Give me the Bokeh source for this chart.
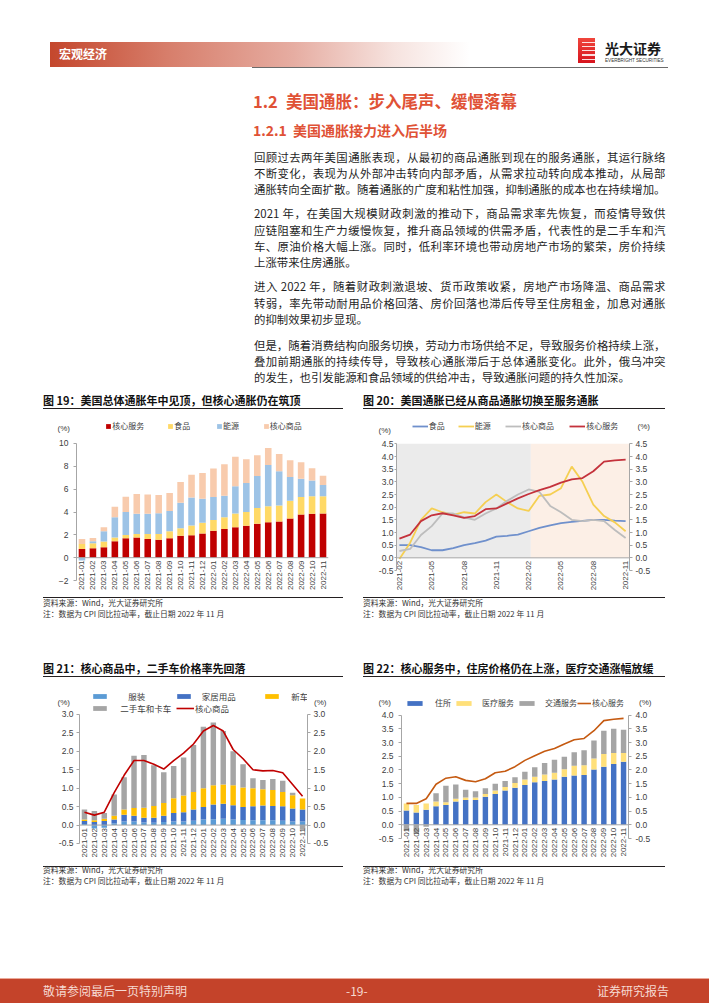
import math
import numpy as np
from bokeh.plotting import figure
from bokeh.models import (Range1d, FactorRange, LinearAxis, Legend, LegendItem, Label,
                          FixedTicker, BoxAnnotation, Div, Spacer, NumeralTickFormatter, Span)
from bokeh.layouts import column, row
from bokeh.embed import file_html
from bokeh.resources import INLINE
from bokeh.core.properties import value

# ---------------- data ----------------
months = ["2021-01", "2021-02", "2021-03", "2021-04", "2021-05", "2021-06", "2021-07",
          "2021-08", "2021-09", "2021-10", "2021-11", "2021-12", "2022-01", "2022-02",
          "2022-03", "2022-04", "2022-05", "2022-06", "2022-07", "2022-08", "2022-09",
          "2022-10", "2022-11"]

# Fig 19 (contribution to CPI yoy, %)
c19_services = [0.76, 0.82, 0.91, 1.44, 1.70, 1.76, 1.64, 1.58, 1.70, 1.91, 1.96, 2.11,
                2.35, 2.52, 2.67, 2.79, 2.96, 3.11, 3.17, 3.43, 3.78, 3.84, 3.87]
c19_food = [0.44, 0.44, 0.50, 0.32, 0.29, 0.32, 0.44, 0.50, 0.62, 0.67, 0.86, 0.94,
            0.96, 1.03, 1.20, 1.20, 1.38, 1.40, 1.40, 1.55, 1.53, 1.53, 1.50]
c19_energy = [-0.25, 0.18, 0.91, 1.79, 2.00, 1.76, 1.76, 1.82, 1.76, 2.23, 2.46, 2.11,
              2.00, 1.88, 2.38, 2.55, 2.82, 3.60, 3.00, 2.08, 1.60, 1.38, 1.00]
c19_coregoods = [0.44, 0.29, 0.35, 0.91, 1.35, 1.73, 1.70, 1.58, 1.58, 1.82, 1.99, 2.26,
                 2.49, 2.75, 2.58, 2.08, 1.81, 1.50, 1.50, 1.47, 1.44, 1.09, 0.80]
c19_names = ["核心服务", "食品", "能源", "核心商品"]

# Fig 20 (2021-02 .. 2022-11)
c20_months = months[1:]
c20_food = [0.50, 0.50, 0.42, 0.30, 0.30, 0.38, 0.50, 0.58, 0.68, 0.84, 0.87, 0.92,
            1.05, 1.18, 1.28, 1.37, 1.42, 1.46, 1.50, 1.50, 1.47, 1.45]
c20_energy = [-0.05, 0.60, 1.50, 1.95, 1.80, 1.70, 1.80, 1.75, 2.20, 2.50, 2.20, 1.95,
              1.85, 2.45, 2.50, 2.75, 3.60, 3.00, 2.10, 1.65, 1.40, 1.05]
c20_coregoods = [0.27, 0.35, 0.90, 1.25, 1.75, 1.75, 1.60, 1.50, 1.75, 1.95, 2.25, 2.50,
                 2.70, 2.60, 2.05, 1.80, 1.50, 1.45, 1.50, 1.45, 1.10, 0.78]
c20_services = [0.76, 0.92, 1.45, 1.68, 1.76, 1.68, 1.58, 1.65, 1.92, 1.95, 2.15, 2.35,
                2.52, 2.67, 2.80, 2.97, 3.10, 3.15, 3.42, 3.80, 3.85, 3.88]
c20_names = ["食品", "能源", "核心商品", "核心服务"]
c20_tick_step = 3

# Fig 21
c21_apparel = [0.03, -0.09, -0.07, 0.05, 0.10, 0.10, 0.07, 0.06, 0.08, 0.10, 0.10, 0.12,
               0.15, 0.16, 0.17, 0.15, 0.14, 0.13, 0.13, 0.13, 0.12, 0.10, 0.10]
c21_furnish = [0.08, 0.08, 0.11, 0.10, 0.18, 0.15, 0.13, 0.14, 0.17, 0.23, 0.25, 0.30,
               0.34, 0.40, 0.41, 0.39, 0.35, 0.38, 0.40, 0.39, 0.39, 0.35, 0.32]
c21_newcar = [0.04, 0.05, 0.06, 0.10, 0.14, 0.21, 0.27, 0.32, 0.35, 0.40, 0.45, 0.48,
              0.51, 0.52, 0.52, 0.54, 0.53, 0.49, 0.44, 0.43, 0.39, 0.36, 0.30]
c21_used = [0.27, 0.25, 0.16, 0.58, 0.88, 1.42, 1.43, 1.10, 0.83, 0.87, 1.03, 1.27,
            1.67, 1.70, 1.45, 0.92, 0.63, 0.27, 0.25, 0.30, 0.30, 0.07, -0.12]
c21_core = [0.35, 0.27, 0.35, 0.88, 1.35, 1.75, 1.75, 1.65, 1.52, 1.75, 1.95, 2.20,
            2.55, 2.70, 2.55, 2.05, 1.80, 1.50, 1.47, 1.48, 1.42, 1.10, 0.78]
c21_names = ["服装", "家居用品", "新车", "二手车和卡车", "核心商品"]

# Fig 22
c22_housing = [0.52, 0.45, 0.55, 0.68, 0.72, 0.85, 0.90, 0.90, 1.02, 1.12, 1.25, 1.35,
               1.45, 1.55, 1.60, 1.65, 1.75, 1.80, 1.82, 2.02, 2.12, 2.22, 2.30]
c22_medical = [0.26, 0.27, 0.23, 0.17, 0.10, 0.10, 0.10, 0.10, 0.10, 0.13, 0.13, 0.17,
               0.20, 0.20, 0.23, 0.25, 0.28, 0.35, 0.35, 0.40, 0.46, 0.40, 0.32]
c22_transport = [-0.22, -0.34, -0.07, 0.30, 0.60, 0.52, 0.28, 0.22, 0.21, 0.25, 0.22, 0.21,
                 0.28, 0.35, 0.42, 0.47, 0.45, 0.50, 0.55, 0.65, 0.85, 0.88, 0.85]
c22_core = [0.78, 0.78, 0.95, 1.48, 1.70, 1.75, 1.62, 1.57, 1.68, 1.90, 1.95, 2.12,
            2.35, 2.52, 2.68, 2.78, 2.95, 3.10, 3.15, 3.43, 3.80, 3.85, 3.88]
c22_names = ["住所", "医疗服务", "交通服务", "核心服务"]

# ---------------- styling helpers ----------------
CJK = "Noto Sans CJK SC"
NUM = "Liberation Sans"
AX = "#A6A6A6"
TXT = "#404040"


def base_fig(w, h, xr, yr, ml, mr, mt, mb):
    p = figure(width=w, height=h, x_range=xr, y_range=yr, output_backend="svg",
               toolbar_location=None, title=None, x_axis_location=None,
               min_border_left=ml, min_border_right=mr, min_border_top=mt, min_border_bottom=mb)
    p.outline_line_color = None
    p.xgrid.visible = False
    p.ygrid.visible = False
    return p


def style_y(ax, bounds, ticks, fmt=None, tick_out=3, standoff=5):
    ax.bounds = bounds
    ax.ticker = FixedTicker(ticks=ticks)
    if fmt:
        ax.formatter = NumeralTickFormatter(format=fmt)
    ax.axis_line_color = AX
    ax.major_tick_line_color = AX
    ax.major_tick_out = tick_out
    ax.major_tick_in = 0
    ax.minor_tick_line_color = None
    ax.major_label_text_font = NUM
    ax.major_label_text_font_size = "8.5px"
    ax.major_label_text_color = TXT
    ax.major_label_standoff = standoff


def x_labels(p, xs, labels, offset=3):
    """Category/date labels hanging below the zero line, reading bottom-to-top."""
    p.add_layout(Span(location=0, dimension="width", line_color=AX, line_width=1))
    p.text(x=xs, y=[0] * len(xs), text=labels, angle=math.pi / 2, y_offset=offset,
           text_align="right", text_baseline="middle", text_font=value(NUM),
           text_font_size="8px", text_color=TXT)


def leg(p, label, r, x, yc, gw, gh, standoff, fs="8px"):
    lg = Legend(items=[LegendItem(label=label, renderers=[r])], location=(x, yc - gh / 2),
                orientation="horizontal", glyph_width=int(gw), glyph_height=int(gh),
                label_height=int(gh), label_width=1, label_standoff=int(standoff),
                padding=0, margin=0, spacing=0,
                border_line_color=None, background_fill_alpha=0,
                label_text_font=CJK, label_text_font_size=fs, label_text_color=TXT)
    p.add_layout(lg)


def pct_side(p, x, y, side):
    """'(%)' unit label placed in the side panel beyond the y axis."""
    p.add_layout(Label(x=x, y=y, x_units="screen", y_units="screen", text="(%)",
                       text_font=NUM, text_font_size="8px", text_color=TXT,
                       text_baseline="middle", text_align="left"), side)


def stacked(p, xs, series, width):
    n = len(xs)
    pos = np.zeros(n)
    neg = np.zeros(n)
    rends = []
    for vals, color in series:
        v = np.asarray(vals, float)
        bottom = np.where(v >= 0, pos, neg)
        top = bottom + v
        pos = np.where(v >= 0, top, pos)
        neg = np.where(v < 0, top, neg)
        rends.append(p.vbar(x=xs, top=top, bottom=bottom, width=width,
                            fill_color=color, line_color=None))
    return rends


# ---------------- Fig 19 ----------------
p19 = base_fig(300, 178, FactorRange(*months), Range1d(-3.226, 12.102), 28, 15, 1, 2)
r19 = stacked(p19, months, [(c19_services, "#C00000"), (c19_food, "#FFD966"),
                            (c19_energy, "#9DC3E6"), (c19_coregoods, "#F8CBAD")], 0.6)
style_y(p19.yaxis[0], (-2, 10), [-2, 0, 2, 4, 6, 8, 10])
x_labels(p19, months, months)
for (name, r, x) in zip(c19_names, r19, [29.2, 91.3, 140.0, 186.7]):
    leg(p19, name, r, x, 166, 6, 6, 1)
pct_side(p19, 14, 166, "left")

# ---------------- Fig 20 ----------------
idx20 = list(range(len(c20_months)))
p20 = base_fig(302, 178, Range1d(-0.27, len(c20_months) - 1 + 0.36), Range1d(-1.447, 5.461),
               32, 33, 1, 2)
shade_split = 12.2
p20.add_layout(BoxAnnotation(right=shade_split, bottom=0, top=4.5, fill_color="#EBEBEB",
                             fill_alpha=1, line_color=None, level="underlay"))
p20.add_layout(BoxAnnotation(left=shade_split, bottom=0, top=4.5, fill_color="#FCEFE6",
                             fill_alpha=1, line_color=None, level="underlay"))
r20 = []
for vals, color in [(c20_food, "#6F90CC"), (c20_energy, "#F5CF52"),
                    (c20_coregoods, "#BDBDBD"), (c20_services, "#C4323C")]:
    r20.append(p20.line(idx20, vals, line_color=color, line_width=1.8))
ticks20 = [-0.5, 0, 0.5, 1, 1.5, 2, 2.5, 3, 3.5, 4, 4.5]
style_y(p20.yaxis[0], (-0.5, 4.5), ticks20, "0.0", tick_out=2, standoff=1)
ry20 = LinearAxis()
p20.add_layout(ry20, "right")
style_y(ry20, (-0.5, 4.5), ticks20, "0.0", tick_out=3, standoff=3)
x_labels(p20, idx20[::c20_tick_step], c20_months[::c20_tick_step])
for (name, r, x) in zip(c20_names, r20, [15.7, 61.7, 109.0, 173.3]):
    leg(p20, name, r, x, 166, 16, 6, 1)
pct_side(p20, 15, 164, "left")
pct_side(p20, -16, 168, "right")

# ---------------- Fig 21 ----------------
p21 = base_fig(300, 178, FactorRange(*months), Range1d(-1.0155, 3.732), 28, 29, 1, 2)
r21 = stacked(p21, months, [(c21_apparel, "#5B9BD5"), (c21_furnish, "#4472C4"),
                            (c21_newcar, "#FFC000"), (c21_used, "#A5A5A5")], 0.55)
l21 = p21.line(months, c21_core, line_color="#C00000", line_width=1.6)
ticks21 = [-0.5, 0, 0.5, 1, 1.5, 2, 2.5, 3]
style_y(p21.yaxis[0], (-0.5, 3.0), ticks21, "0.0", tick_out=3, standoff=3)
ry21 = LinearAxis()
p21.add_layout(ry21, "right")
style_y(ry21, (-0.5, 3.0), ticks21, "0.0", tick_out=3, standoff=3)
x_labels(p21, months, months)
leg(p21, c21_names[0], r21[0], 12.3, 163, 17, 6, 20, "8.5px")
leg(p21, c21_names[1], r21[1], 95.7, 163, 17, 6, 10, "8.5px")
leg(p21, c21_names[2], r21[2], 184.3, 163, 17, 6, 11, "8.5px")
leg(p21, c21_names[3], r21[3], 12.3, 151, 17, 6, 12, "8.5px")
leg(p21, c21_names[4], l21, 97.0, 151, 18, 6, 1, "8.5px")
pct_side(p21, 14, 160, "left")
pct_side(p21, -17.5, 160, "right")

# ---------------- Fig 22 ----------------
p22 = base_fig(302, 178, FactorRange(*months), Range1d(-1.375, 5.007), 32, 32, 1, 2)
r22 = stacked(p22, months, [(c22_housing, "#4472C4"), (c22_medical, "#FFE07A"),
                            (c22_transport, "#A5A5A5")], 0.55)
l22 = p22.line(months, c22_core, line_color="#C55A11", line_width=1.6)
ticks22 = [-0.5, 0, 0.5, 1, 1.5, 2, 2.5, 3, 3.5, 4]
style_y(p22.yaxis[0], (-0.5, 4.0), ticks22, "0.0", tick_out=3, standoff=5)
ry22 = LinearAxis()
p22.add_layout(ry22, "right")
style_y(ry22, (-0.5, 4.0), ticks22, "0.0", tick_out=3, standoff=4)
x_labels(p22, months, months)
leg(p22, c22_names[0], r22[0], 4.0, 157, 19, 6, 11, "8px")
leg(p22, c22_names[1], r22[1], 53.0, 157, 19, 6, 9, "8px")
leg(p22, c22_names[2], r22[2], 116.0, 157, 19, 6, 9, "8px")
leg(p22, c22_names[3], l22, 176.0, 157, 14, 6, 1, "8px")
pct_side(p22, 15, 160, "left")
pct_side(p22, -14.5, 160, "right")

# ---------------- page text (HTML) ----------------
FONTCSS = "'Noto Sans CJK SC','Noto Sans',sans-serif"
RED = "#E05236"
INK = "#1F1F1F"


def T(x, y, s, size, ox, oy, color=INK, weight="normal", width=None, justify=False,
      lhf=1.3, font=FONTCSS, extra=""):
    lh = round(size * lhf, 2)
    st = (f"position:absolute;left:{x - ox}px;top:{y - oy - lh / 2:.2f}px;height:{lh}px;"
          f"line-height:{lh}px;font-size:{size}px;color:{color};font-weight:{weight};"
          f"font-family:{font};")
    if width:
        st += f"width:{width}px;"
    if justify:
        st += "text-align:justify;text-align-last:justify;overflow:visible;"
    else:
        st += "white-space:nowrap;"
    return f'<div style="{st}{extra}">{s}</div>'


def R(x, y, w, h, bg, ox, oy, extra=""):
    return (f'<div style="position:absolute;left:{x - ox}px;top:{y - oy}px;width:{w}px;'
            f'height:{h}px;background:{bg};{extra}"></div>')


def wrap(inner, w, h):
    return f'<div style="position:relative;width:{w}px;height:{h}px;overflow:visible;">{inner}</div>'


paragraphs = [
    ["回顾过去两年美国通胀表现，从最初的商品通胀到现在的服务通胀，其运行脉络",
     "不断变化，表现为从外部冲击转向内部矛盾，从需求拉动转向成本推动，从局部",
     "通胀转向全面扩散。随着通胀的广度和粘性加强，抑制通胀的成本也在持续增加。"],
    ["2021 年，在美国大规模财政刺激的推动下，商品需求率先恢复，而疫情导致供",
     "应链阻塞和生产力缓慢恢复，推升商品领域的供需矛盾，代表性的是二手车和汽",
     "车、原油价格大幅上涨。同时，低利率环境也带动房地产市场的繁荣，房价持续",
     "上涨带来住房通胀。"],
    ["进入 2022 年，随着财政刺激退坡、货币政策收紧，房地产市场降温、商品需求",
     "转弱，率先带动耐用品价格回落、房价回落也滞后传导至住房租金，加息对通胀",
     "的抑制效果初步显现。"],
    ["但是，随着消费结构向服务切换，劳动力市场供给不足，导致服务价格持续上涨，",
     "叠加前期通胀的持续传导，导致核心通胀滞后于总体通胀变化。此外，俄乌冲突",
     "的发生，也引发能源和食品领域的供给冲击，导致通胀问题的持久性加深。"],
]
para_y = [[157, 173, 189], [213.3, 230, 246, 262.7], [286.7, 303.3, 319.3], [345, 361, 377]]

W = 710
ox, oy = 0, 0
a = []
a.append(R(50, 42, 420, 24.5, "linear-gradient(to right,#C4472D 0%,#D77E6B 28%,#E6ADA2 58%,#F6E3DF 82%,#FFFFFF 100%)", ox, oy))
a.append(T(59, 53.5, "宏观经济", 12, ox, oy, color="#FFFFFF", weight="bold"))
a.append(R(252, 66.5, 416, 1.6, "#6B6B6B", ox, oy))
# logo
a.append(R(578, 38, 17, 25, "linear-gradient(to bottom,#F0463C,#D7141E)", ox, oy))
for k in range(5):
    a.append(R(582, 41.5 + k * 4.3, 13, 1.3, "#FFFFFF", ox, oy, "opacity:0.85;"))
a.append(T(605, 47.5, "光大证券", 14, ox, oy, color="#1A1A1A", weight="bold", lhf=1.0))
a.append(T(605, 61, "EVERBRIGHT SECURITIES", 4.6, ox, oy, color="#333333", lhf=1.0,
           font="'Liberation Sans',sans-serif"))
# headings
a.append(T(253, 102, "1.2", 16.5, ox, oy, color=RED, weight="bold"))
a.append(T(286, 102, "美国通胀：步入尾声、缓慢落幕", 16.5, ox, oy, color=RED, weight="bold"))
a.append(T(253, 130, "1.2.1", 14, ox, oy, color=RED, weight="bold"))
a.append(T(293, 130, "美国通胀接力进入后半场", 14, ox, oy, color=RED, weight="bold"))
for lines, ys in zip(paragraphs, para_y):
    for i, (ln, yy) in enumerate(zip(lines, ys)):
        last = (i == len(lines) - 1) and len(ln) < 34
        if last:
            a.append(T(254, yy, ln, 11.4, ox, oy, color=INK))
        else:
            a.append(T(254, yy, ln, 11.4, ox, oy, color=INK, width=411.5, justify=True))
# chart titles row 1
a.append(T(43, 400, "图 19：美国总体通胀年中见顶，但核心通胀仍在筑顶", 11, ox, oy, color="#111111", weight="bold"))
a.append(T(363, 400, "图 20：美国通胀已经从商品通胀切换至服务通胀", 11, ox, oy, color="#111111", weight="bold"))
a.append(R(43, 407.5, 300, 1.3, "#231F20", ox, oy))
a.append(R(363, 407.5, 302, 1.3, "#231F20", ox, oy))
divA = Div(text=wrap("".join(a), W, 418), width=W, height=418, margin=0)

SRC1 = "资料来源：Wind，光大证券研究所"
SRC2 = "注：数据为 CPI 同比拉动率，截止日期 2022 年 11 月"

ox, oy = 0, 596
b = []
for x0, w in [(43, 300), (363, 302)]:
    b.append(R(x0, 597, w, 1, "#231F20", ox, oy))
    b.append(T(x0, 603.3, SRC1, 7.8, ox, oy, color="#333333"))
    b.append(T(x0, 614.5, SRC2, 7.8, ox, oy, color="#333333"))
    b.append(R(x0, 675.5, w, 1.3, "#231F20", ox, oy))
b.append(T(43, 668, "图 21：核心商品中，二手车价格率先回落", 11, ox, oy, color="#111111", weight="bold"))
b.append(T(363, 668, "图 22：核心服务中，住房价格仍在上涨，医疗交通涨幅放缓", 11, ox, oy, color="#111111", weight="bold"))
divB = Div(text=wrap("".join(b), W, 90), width=W, height=90, margin=0)

ox, oy = 0, 864
c = []
for x0, w in [(43, 300), (363, 302)]:
    c.append(R(x0, 865.5, w, 1, "#231F20", ox, oy))
    c.append(T(x0, 870.3, SRC1, 7.8, ox, oy, color="#333333"))
    c.append(T(x0, 881.3, SRC2, 7.8, ox, oy, color="#333333"))
c.append(R(0, 977.5, 709, 1, "#EBA999", ox, oy))
c.append(R(0, 978.5, 709, 24.5, "#C4432A", ox, oy))
c.append(T(43, 991, "敬请参阅最后一页特别声明", 12, ox, oy, color="#F6DAD2"))
c.append(T(346, 991, "-19-", 12, ox, oy, color="#F6DAD2"))
c.append(T(597, 991, "证券研究报告", 12, ox, oy, color="#F6DAD2"))
divC = Div(text=wrap("".join(c), W, 139), width=W, height=139, margin=0)

row1 = row(Spacer(width=43, height=178), p19, Spacer(width=20, height=178), p20)
row2 = row(Spacer(width=43, height=178), p21, Spacer(width=20, height=178), p22)
page = column(divA, row1, divB, row2, divC)

open("out.html", "w").write(file_html(page, INLINE))
